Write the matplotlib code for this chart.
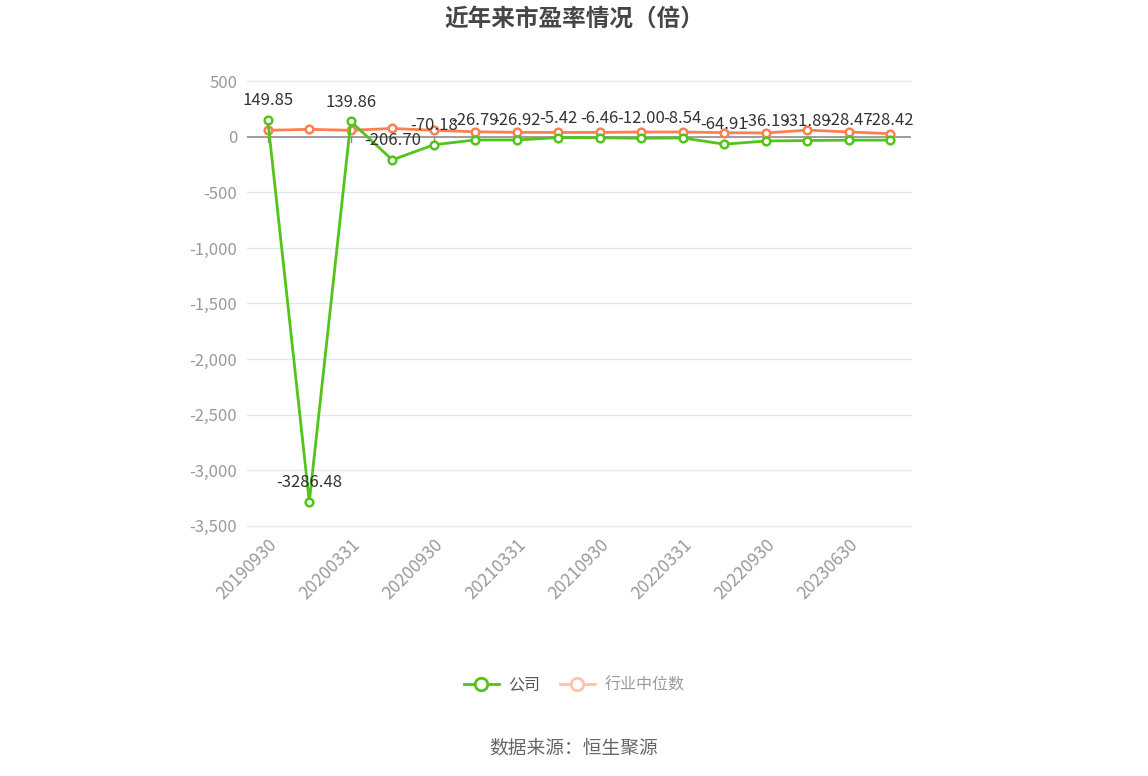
import matplotlib
matplotlib.use('Agg')
import matplotlib.pyplot as plt
from matplotlib.lines import Line2D
from matplotlib.ticker import FuncFormatter

plt.rcParams['font.family'] = ['Noto Sans CJK SC', 'DejaVu Sans']

# 报告期
dates = ['20190930', '20191231', '20200331', '20200630', '20200930', '20201231',
         '20210331', '20210630', '20210930', '20211231', '20220331', '20220630',
         '20220930', '20221231', '20230630', '20230930']
# 公司市盈率
company_pe = [149.85, -3286.48, 139.86, -206.70, -70.18, -26.79, -26.92, -5.42,
              -6.46, -12.00, -8.54, -64.91, -36.19, -31.89, -28.47, -28.42]
# 行业中位数
industry_pe = [60, 69, 60, 77, 60, 47, 42, 41, 41, 45, 45, 39, 36, 62, 45, 30]

green = '#52c41a'
orange = '#ff7f4f'

fig = plt.figure(figsize=(11.48, 7.76), dpi=100)
ax = fig.add_axes([0.2152, 0.3228, 0.5784, 0.5722])

x = list(range(len(dates)))

# 网格线
yticks = [500, 0, -500, -1000, -1500, -2000, -2500, -3000, -3500]
for yv in yticks:
    if yv != 0:
        ax.axhline(yv, color='#e3e7f1', lw=1, zorder=0, clip_on=False)
ax.axhline(0, color='#8c8c8c', lw=1.2, zorder=1)

ax.plot(x, industry_pe, color=orange, lw=2, marker='o', ms=5.5, mfc='white',
        mec=orange, mew=1.8, zorder=3)
ax.plot(x, company_pe, color=green, lw=2, marker='o', ms=5.5, mfc='white',
        mec=green, mew=1.8, zorder=4)

# 数据标签
for i, v in enumerate(company_pe):
    ax.annotate(f'{v:.2f}', (i, v), xytext=(0, 14), textcoords='offset points',
                ha='center', va='center', fontsize=12, color='#333333', zorder=5)

ax.set_xlim(-0.5, len(dates) - 0.5)
ax.set_ylim(-3500, 500)
ax.set_yticks(yticks)
ax.yaxis.set_major_formatter(FuncFormatter(lambda v, p: f'{v:,.0f}'.replace('\u2212', '-')))
ax.tick_params(axis='y', length=0, pad=7, labelsize=12, labelcolor='#9a9a9a')

# x轴刻度：隔一个显示
ax.set_xticks(x[::2])
ax.set_xticklabels(dates[::2], rotation=45, ha='right', rotation_mode='anchor')
ax.tick_params(axis='x', length=0, pad=7, labelsize=12.5, labelcolor='#9a9a9a')
for i in x[::2]:
    ax.plot([i, i], [0, -45], color='#8c8c8c', lw=1, zorder=1)

for s in ax.spines.values():
    s.set_visible(False)

fig.text(0.5, 1 - 19 / 776, '近年来市盈率情况（倍）', ha='center', va='center',
         fontsize=17, fontweight='bold', color='#464646')

handles = [
    Line2D([0], [0], color=green, lw=2, marker='o', ms=9, mfc='white', mec=green, mew=2),
    Line2D([0], [0], color='#ffc2ad', lw=2, marker='o', ms=9, mfc='white', mec='#ffc2ad', mew=2),
]
leg = fig.legend(handles, ['公司', '行业中位数'], loc='center', ncol=2,
                 bbox_to_anchor=(0.5, 1 - 685 / 776), frameon=False,
                 fontsize=11.5, handlelength=2.2, columnspacing=1.2, handletextpad=0.6)
leg.get_texts()[0].set_color('#555555')
leg.get_texts()[1].set_color('#9a9a9a')

fig.text(0.5, 1 - 748 / 776, '数据来源：恒生聚源', ha='center', va='center',
         fontsize=13.5, color='#666666')

fig.savefig('out.png', dpi=100)
